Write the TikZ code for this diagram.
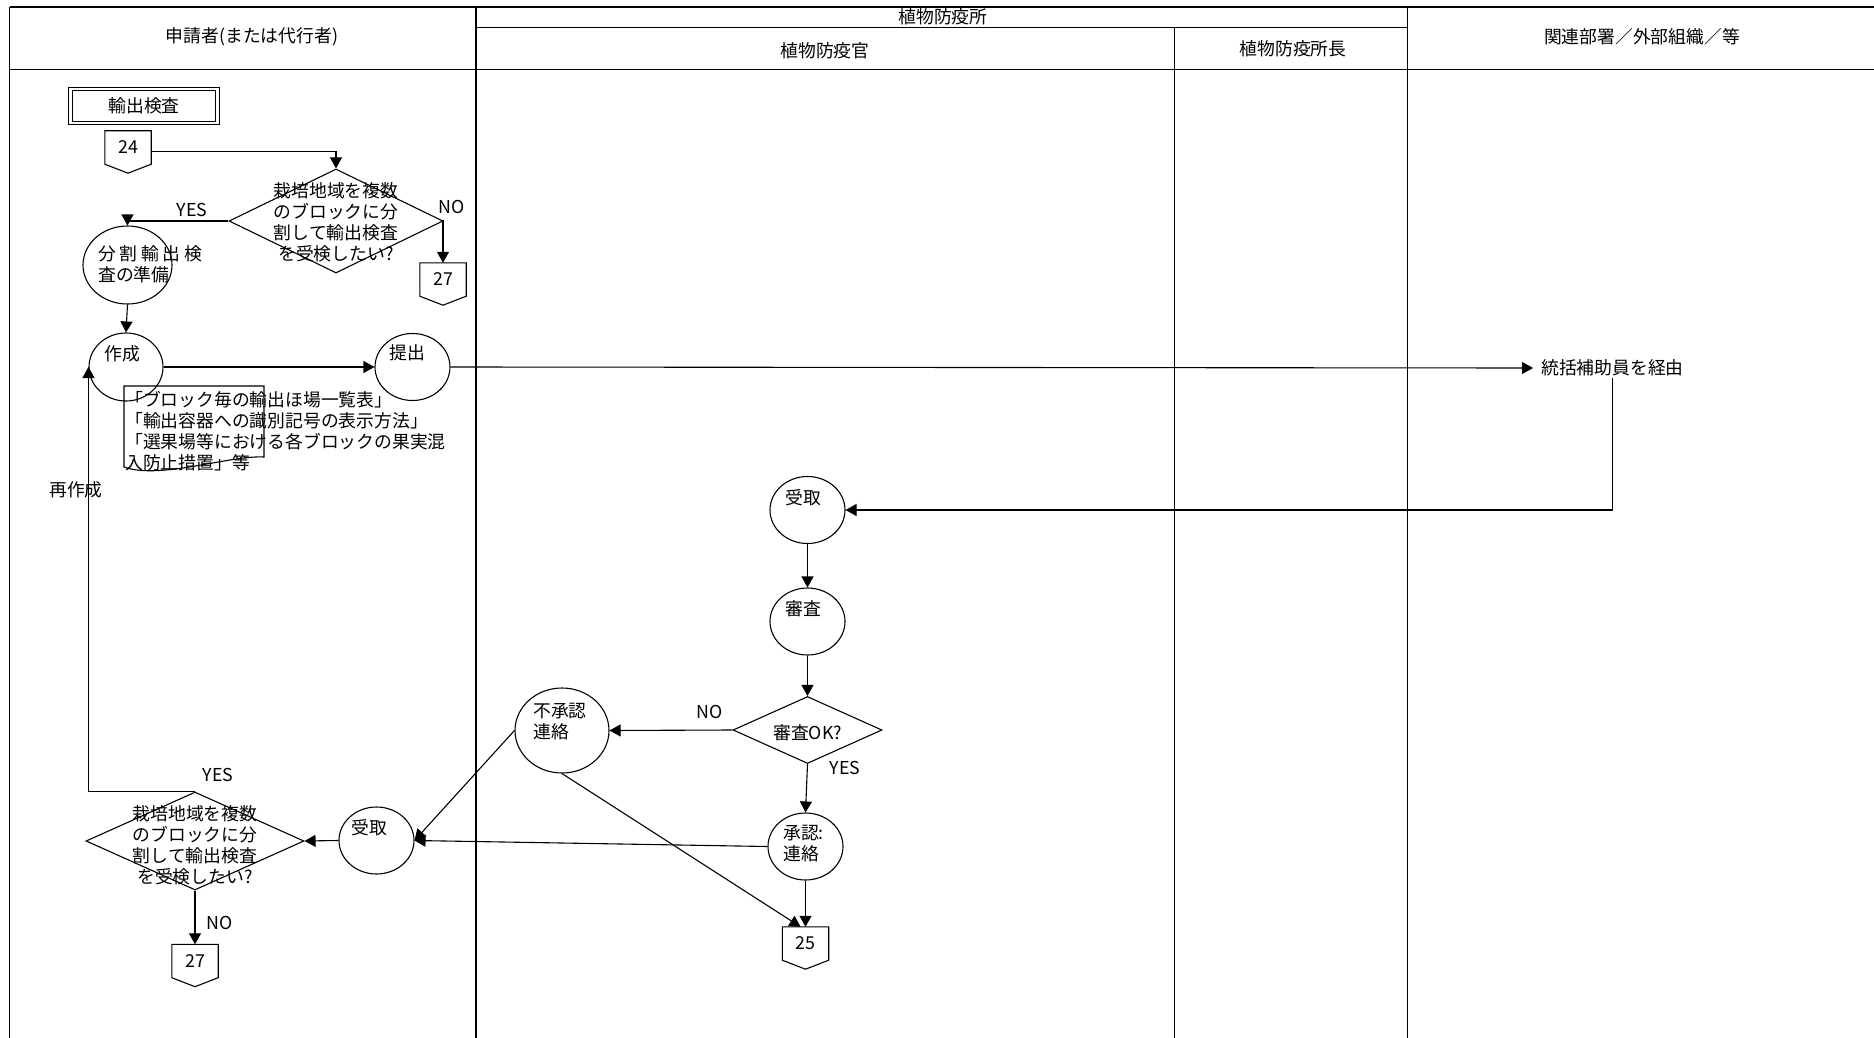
\documentclass[tikz,border=0pt]{standalone}
\usepackage{fontspec}
\setmainfont{Noto Sans CJK JP}
\usetikzlibrary{shapes.geometric,arrows.meta}
\newcommand\opshape[1]{\draw[conn,line join=miter] (#1.north west) -- (#1.north east) -- (#1.south east) -- ([yshift=-9pt]#1.south) -- (#1.south west) -- cycle;}
\begin{document}
\begin{tikzpicture}[x=1pt,y=-1pt,
  font=\fontsize{17.8}{21}\selectfont,
  lane/.style={line width=1.4pt},
  conn/.style={line width=1.1pt},
  arr/.style={conn,-{Triangle[length=11pt,width=12pt]}},
  ell/.style={draw,ellipse,line width=1.1pt,inner sep=0pt,minimum width=75pt,minimum height=67pt},
  dia/.style={draw,diamond,line width=1.1pt,inner sep=0pt},
  opc/.style={inner sep=0pt,minimum width=46pt,minimum height=33pt},
  txt/.style={inner sep=0pt,align=left},
  ctxt/.style={inner sep=0pt,align=center},
  lbl/.style={inner sep=0pt}
]
\fill[white] (0,0) rectangle (1874,1038);
\useasboundingbox (0,0) rectangle (1874,1038);

% swimlanes
\draw[lane] (9.6,7) -- (1874,7);
\draw[lane] (9.6,69.3) -- (1874,69.3);
\draw[lane] (476,27.5) -- (1407.7,27.5);
\draw[lane] (9.6,7) -- (9.6,1038);
\draw[lane] (476,7) -- (476,1038);
\draw[lane] (1407.7,7) -- (1407.7,1038);
\draw[lane] (1174.7,27.5) -- (1174.7,1038);

\node[lbl] (h1) at (252,37) {申請者(または代行者)};
\node[lbl] (h2) at (943,17) {植物防疫所};
\node[lbl] (h3) at (825,51) {植物防疫官};
\node[lbl] (h4) at (1293,49) {植物防疫所長};
\node[lbl] (h5) at (1642,37) {関連部署／外部組織／等};

% title
\node[draw,double,double distance=2.2pt,line width=1pt,minimum width=147pt,minimum height=33.5pt,inner sep=0pt] (title) at (144,106) {輸出検査};

% off-page connectors
\node[opc] (c24) at (128,147.5) {24};
\opshape{c24}
\node[opc] (c27a) at (443,279.5) {27};
\opshape{c27a}
\node[opc] (c25) at (805.5,943.5) {25};
\opshape{c25}
\node[opc] (c27b) at (195,961) {27};
\opshape{c27b}

% diamonds
\node[dia,minimum width=214pt,minimum height=104pt] (d1) at (336,221) {};
\node[ctxt] (d1t) at (336,222) {栽培地域を複数\\のブロックに分\\割して輸出検査\\を受検したい?};
\node[dia,minimum width=149pt,minimum height=67pt] (d2) at (807.5,730) {};
\node[lbl] (d2t) at (807.5,733) {審査OK?};
\node[dia,minimum width=218pt,minimum height=98pt] (d3) at (195,841) {};
\node[ctxt] (d3t) at (195,845) {栽培地域を複数\\のブロックに分\\割して輸出検査\\を受検したい?};

% ellipses
\node[ell,minimum width=89pt,minimum height=78pt] (p1) at (127.5,265) {};
\node[txt,anchor=west] (p1t) at (98,264.5) {\makebox[104pt][s]{分\hfill 割\hfill 輸\hfill 出\hfill 検}\\査の準備};
\node[ell,minimum width=74pt,minimum height=68pt] (p2) at (126,367) {};
\node[lbl] (p2t) at (122,354) {作成};
\node[ell] (p3) at (412.5,367) {};
\node[lbl] (p3t) at (407,353) {提出};
\node[ell] (r1) at (807.5,510) {};
\node[lbl] (r1t) at (803,498) {受取};
\node[ell] (s1) at (807.5,621.5) {};
\node[lbl] (s1t) at (803,609) {審査};
\node[ell,minimum width=94pt,minimum height=85pt] (n1) at (562,730.5) {};
\node[txt,anchor=west] (n1t) at (533,722) {不承認\\連絡};
\node[ell] (a1) at (805.5,846.5) {};
\node[txt,anchor=west] (a1t) at (783,844) {承認:\\連絡};
\node[ell] (r2) at (376.5,840.5) {};
\node[lbl] (r2t) at (369,828) {受取};

% document
\draw[conn] (124,386) -- (264,386) -- (264,457) .. controls (230,455) and (160,480) .. (124,467) -- cycle;
\node[txt,anchor=west] (doct) at (125,431) {「ブロック毎の輸出ほ場一覧表」\\「輸出容器への識別記号の表示方法」\\「選果場等における各ブロックの果実混\\入防止措置」等};

% via text
\node[lbl,inner xsep=8pt,inner ysep=2pt,anchor=west] (via) at (1533,368) {統括補助員を経由};

% connectors
\draw[arr] ([yshift=-4pt]c24.east) -| (d1.north);
\draw[arr] (d1.west) -| (p1.north);
\draw[arr] (d1.east) -| (c27a.north);
\draw[arr] (p1.south) -- (p2.north);
\draw[arr] (p2.east) -- (p3.west);
\draw[arr] (p3.east) -- (via.west);
\draw[arr] (via.south) |- (r1.east);
\draw[arr] (r1.south) -- (s1.north);
\draw[arr] (s1.south) -- (d2.north);
\draw[arr] (d2.west) -- (n1.east);
\draw[arr] (d2.south) -- (a1.north);
\draw[arr] (a1.south) -- (c25.north);
\draw[arr] (n1.south) -- ([xshift=-5pt]c25.north);
\draw[arr] (n1.west) -- (r2.east);
\draw[arr] (a1.west) -- (r2.east);
\draw[arr] (r2.west) -- (d3.east);
\draw[arr] (d3.north) -| (p2.west);
\draw[arr] (d3.south) -- (c27b.north);

% labels
\node[lbl] (yes1) at (192,210) {YES};
\node[lbl] (no1) at (452,207) {NO};
\node[lbl] (yes2) at (218,775) {YES};
\node[lbl] (no2) at (220,923) {NO};
\node[lbl] (no3) at (710,712) {NO};
\node[lbl] (yes3) at (845,768) {YES};
\node[lbl] (remk) at (76,490) {再作成};
\end{tikzpicture}
\end{document}
